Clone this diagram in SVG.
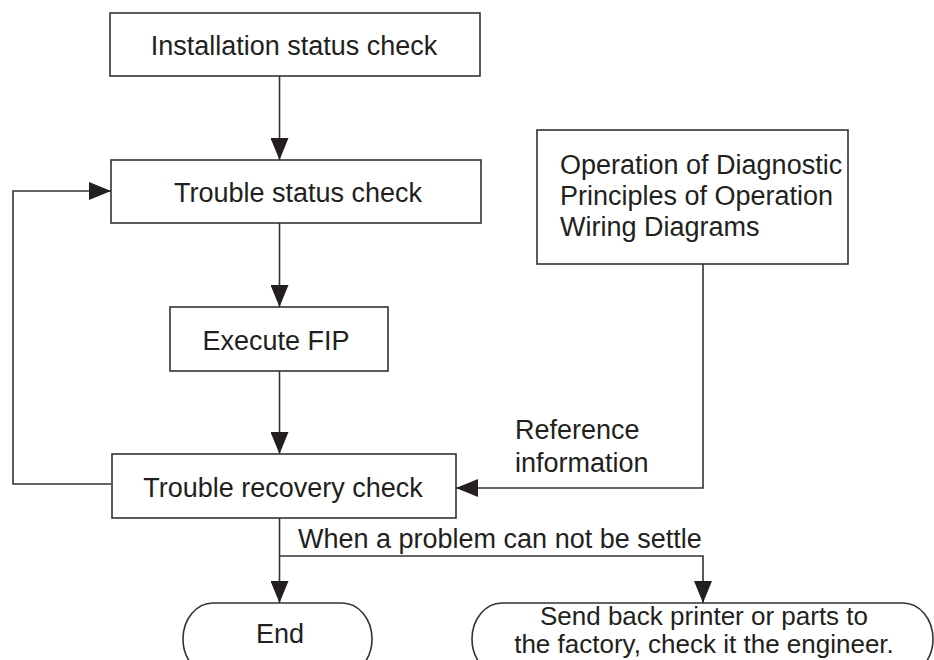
<svg xmlns="http://www.w3.org/2000/svg" width="934" height="660" viewBox="0 0 934 660">
<style>
.box{fill:#fff;stroke:#333;stroke-width:1.6}
.ln{fill:none;stroke:#333;stroke-width:1.6}
text{font-family:"Liberation Sans",Arial,sans-serif;font-size:27px;fill:#231f20}
.c{text-anchor:middle}
.s{font-size:26px}
</style>
<defs>
<marker id="ah" markerUnits="userSpaceOnUse" markerWidth="22" markerHeight="18" refX="22" refY="9" orient="auto">
<path d="M0,0 L22,9 L0,18 z" fill="#231f20"/>
</marker>
</defs>
<rect width="934" height="660" fill="#fff"/>
<g id="connectors">
<path class="ln" d="M279.5,76 V160" marker-end="url(#ah)"/>
<path class="ln" d="M279.5,223 V307" marker-end="url(#ah)"/>
<path class="ln" d="M279.5,371 V454" marker-end="url(#ah)"/>
<path class="ln" d="M111,484 H13 V191 H111" marker-end="url(#ah)"/>
<path class="ln" d="M703,264 V488 H456" marker-end="url(#ah)"/>
<path class="ln" d="M279.5,518 V603" marker-end="url(#ah)"/>
<path class="ln" d="M279.5,556 H703 V603" marker-end="url(#ah)"/>
<text x="298" y="548">When a problem can not be settle</text>
<text x="515" y="439">Reference</text>
<text x="515" y="472">information</text>
</g>
<g id="installation">
<rect class="box" x="110" y="13" width="370" height="63"/>
<text class="c" x="294" y="55">Installation status check</text>
</g>
<g id="trouble-status">
<rect class="box" x="111" y="160" width="370" height="63"/>
<text class="c" x="298" y="202">Trouble status check</text>
</g>
<g id="execute-fip">
<rect class="box" x="170" y="307" width="218" height="64"/>
<text class="c" x="276" y="350">Execute FIP</text>
</g>
<g id="trouble-recovery">
<rect class="box" x="112" y="454" width="344" height="64"/>
<text class="c" x="283" y="497">Trouble recovery check</text>
</g>
<g id="operation">
<rect class="box" x="537" y="130" width="311" height="134"/>
<text x="560" y="174">Operation of Diagnostic</text>
<text x="560" y="205">Principles of Operation</text>
<text x="560" y="236">Wiring Diagrams</text>
</g>
<g id="end">
<rect class="box" x="183" y="603" width="189" height="72" rx="30" ry="36"/>
<text class="c" x="280" y="643">End</text>
</g>
<g id="send-back">
<rect class="box" x="472" y="603" width="461" height="72" rx="30" ry="36"/>
<text class="c s" x="704" y="625">Send back printer or parts to</text>
<text class="c s" x="704" y="653">the factory, check it the engineer.</text>
</g>
</svg>
